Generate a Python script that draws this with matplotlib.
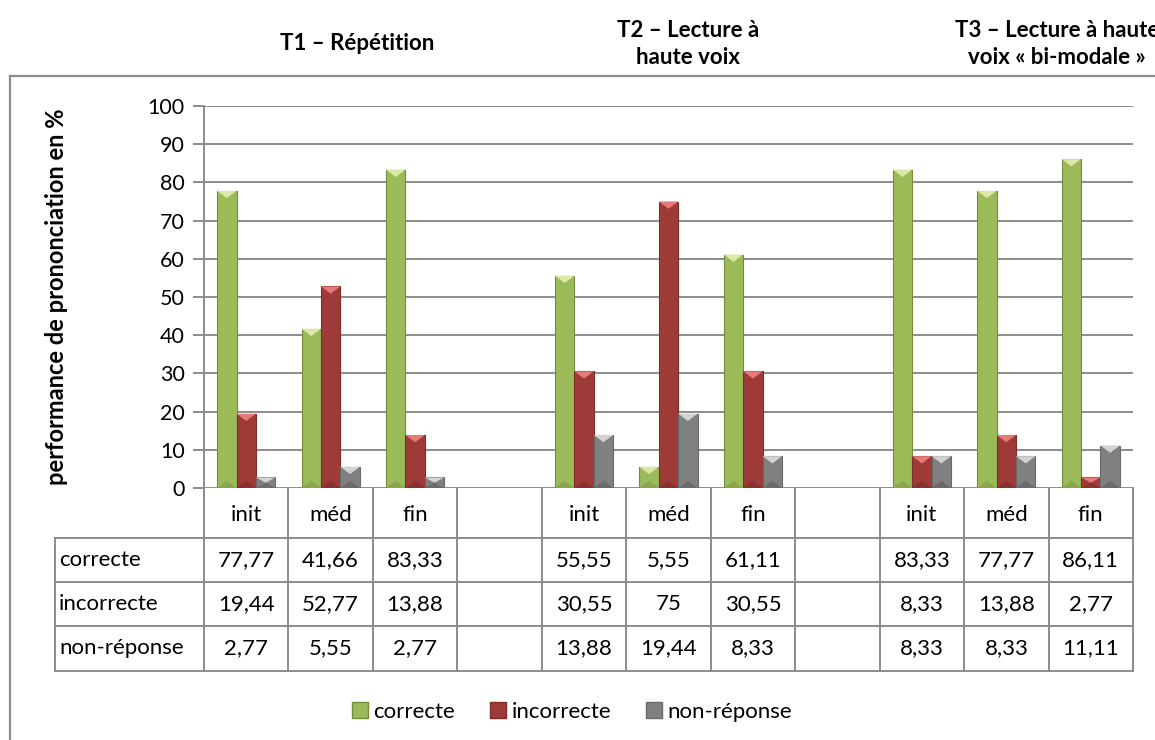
import matplotlib.pyplot as plt
from matplotlib.patches import Polygon, Rectangle
from matplotlib.lines import Line2D

plt.rcParams['font.family'] = ['Lato', 'DejaVu Sans']

# ===== data =====
categories = ["init", "méd", "fin", "", "init", "méd", "fin", "", "init", "méd", "fin"]
correcte = [77.77, 41.66, 83.33, None, 55.55, 5.55, 61.11, None, 83.33, 77.77, 86.11]
incorrecte = [19.44, 52.77, 13.88, None, 30.55, 75, 30.55, None, 8.33, 13.88, 2.77]
non_reponse = [2.77, 5.55, 2.77, None, 13.88, 19.44, 8.33, None, 8.33, 8.33, 11.11]
labels_txt = [["77,77", "41,66", "83,33", "", "55,55", "5,55", "61,11", "", "83,33", "77,77", "86,11"],
              ["19,44", "52,77", "13,88", "", "30,55", "75", "30,55", "", "8,33", "13,88", "2,77"],
              ["2,77", "5,55", "2,77", "", "13,88", "19,44", "8,33", "", "8,33", "8,33", "11,11"]]
series_names = ["correcte", "incorrecte", "non-réponse"]
task_titles = ["T1 – Répétition", "T2 – Lecture à\nhaute voix", "T3 – Lecture à haute\nvoix « bi-modale »"]

# main / top cap / bottom cap / edge colours
styles = [("#9BBB59", "#DCE8A6", "#7E9A44", "#728D3E"),
          ("#9E3B39", "#E57A78", "#7A2B2A", "#7F2E2C"),
          ("#808080", "#D2D2D2", "#5E5E5E", "#6A6A6A")]

W, H = 1155, 740
fig = plt.figure(figsize=(W / 100, H / 100), dpi=100)

# pixel geometry
px_left, px_right, px_top, px_zero = 204, 1133, 106, 488
ax = fig.add_axes([px_left / W, 1 - px_zero / H, (px_right - px_left) / W, (px_zero - px_top) / H])

n = len(categories)
ax.set_xlim(-0.5, n - 0.5)
ax.set_ylim(0, 100)
ax.set_yticks(range(0, 101, 10))
ax.set_xticks([])
ax.grid(axis="y", color="#8C8C8C", lw=1.4)
ax.set_axisbelow(True)
for s in ["top", "right", "bottom"]:
    ax.spines[s].set_visible(False)
ax.spines["left"].set_color("#8C8C8C")
ax.spines["left"].set_linewidth(1.4)
ax.tick_params(axis="y", length=8, width=1.4, color="#8C8C8C", labelsize=15.5, pad=6)
ax.set_ylabel("performance de prononciation en %", fontsize=17, fontweight="bold")
ax.yaxis.set_label_coords(-0.146, 0.5)

bw = 0.23
cap = 1.9
for k, vals in enumerate([correcte, incorrecte, non_reponse]):
    main, top, bot, edge = styles[k]
    for i, v in enumerate(vals):
        if v is None:
            continue
        x0 = i + (k - 1) * bw - bw / 2
        x1 = x0 + bw
        xc = (x0 + x1) / 2
        c = min(cap, v / 2)
        ax.add_patch(Rectangle((x0 + 0.012, -0.6), bw, v, color="#000000", alpha=0.12, lw=0, zorder=2))
        ax.add_patch(Rectangle((x0, 0), bw, v, facecolor=main, edgecolor=edge, lw=0.8, zorder=3))
        ax.add_patch(Polygon([(x0, v), (x1, v), (xc, v - c)], closed=True, facecolor=top, lw=0, zorder=4))
        ax.add_patch(Polygon([(x0, 0), (x1, 0), (xc, c)], closed=True, facecolor=bot, lw=0, alpha=0.6, zorder=4))

# ===== data table (figure pixel coords) =====
ov = fig.add_axes([0, 0, 1, 1], zorder=-1)
ov.set_xlim(0, W)
ov.set_ylim(H, 0)
ov.axis("off")
lc = "#8C8C8C"
colw = (px_right - px_left) / n
row_edges = [488, 538, 582, 626, 671]
tbl_left = 55
# frame of chart area
ov.plot([10, 10], [76, H + 5], color=lc, lw=1.6)
ov.plot([10, W + 5], [76, 76], color=lc, lw=1.6)
# horizontal lines
for y in row_edges[1:]:
    ov.plot([tbl_left, px_right], [y, y], color=lc, lw=1.4)
# vertical lines
for j in range(n + 1):
    x = px_left + j * colw
    ov.plot([x, x], [row_edges[0], row_edges[-1]], color=lc, lw=1.4)
ov.plot([tbl_left, tbl_left], [row_edges[1], row_edges[-1]], color=lc, lw=1.4)
for j, cat in enumerate(categories):
    xc = px_left + (j + 0.5) * colw
    ov.text(xc, (row_edges[0] + row_edges[1]) / 2 + 2, cat, ha="center", va="center", fontsize=16)
    for r in range(3):
        ov.text(xc, (row_edges[r + 1] + row_edges[r + 2]) / 2, labels_txt[r][j],
                ha="center", va="center", fontsize=16)
for r, name in enumerate(series_names):
    ov.text(tbl_left + 4, (row_edges[r + 1] + row_edges[r + 2]) / 2, name, ha="left", va="center", fontsize=16)

# ===== task titles =====
title_x = [357, 688, 1057]
for t, xx in zip(task_titles, title_x):
    fig.text(xx / W, 1 - 44 / H, t, ha="center", va="center", fontsize=16, fontweight="bold", linespacing=1.38)

# ===== legend =====
handles = [Line2D([], [], marker="s", ls="", markersize=11, markerfacecolor=styles[k][0],
                  markeredgecolor=styles[k][3]) for k in range(3)]
fig.legend(handles, series_names, loc="center", bbox_to_anchor=(571 / W, 1 - 712 / H), ncol=3,
           frameon=False, fontsize=16, handletextpad=0.15, columnspacing=1.5, handlelength=0.9)

fig.savefig("out.png", dpi=100)
